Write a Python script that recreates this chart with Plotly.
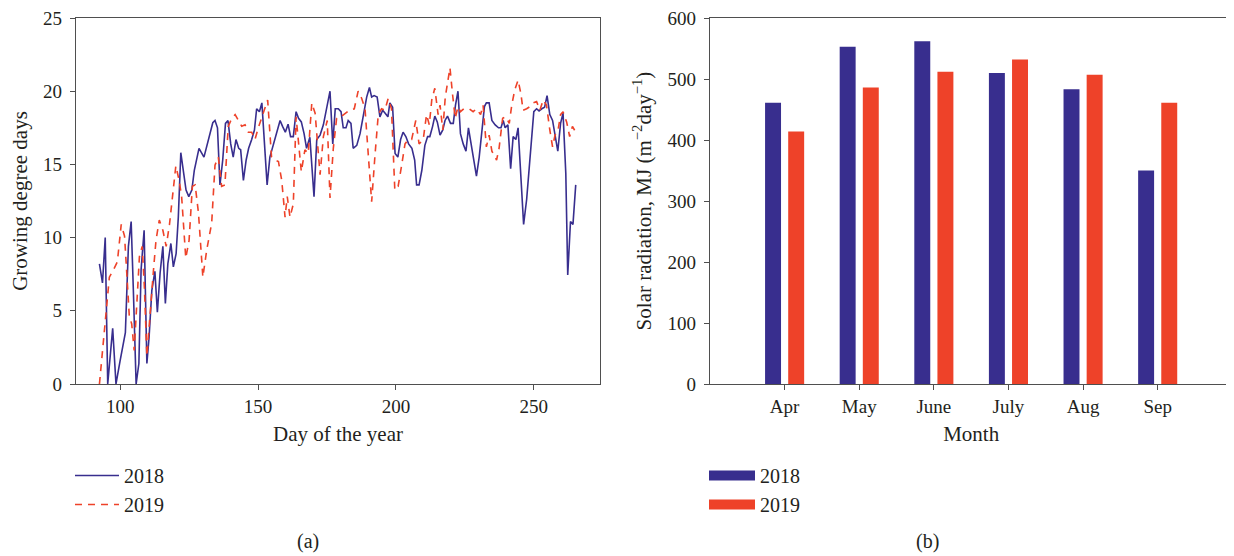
import plotly.graph_objects as go

# ---------------- data: (a) growing degree days ----------------
days_2018 = [92.5, 93.6, 94.6, 95.5, 97.3, 98.5, 100.0, 101.9, 103.0, 104.0, 104.8, 105.8, 106.8, 107.6,
             108.7, 109.7, 110.5, 111.5, 112.6, 113.5, 114.5, 115.5, 116.4, 117.3, 118.4, 119.3, 120.3,
             121.1, 122.0, 122.9, 123.9, 124.9, 126.0, 126.9, 127.8, 128.6, 130.4, 132.0, 133.6, 134.4,
             135.3, 136.2, 137.2, 138.2, 139.1, 140.1, 141.0, 142.0, 143.0, 143.7, 144.7, 145.7, 146.6,
             147.7, 148.7, 149.5, 150.5, 151.4, 152.4, 153.3, 154.3, 155.6, 156.8, 158.0, 158.9, 159.9,
             160.9, 161.8, 162.8, 163.8, 164.7, 165.7, 166.7, 167.6, 168.8, 170.3, 171.3, 172.5, 173.7,
             174.9, 176.1, 177.1, 178.0, 179.1, 180.1, 180.9, 181.9, 182.7, 183.7, 184.5, 185.8, 187.0,
             188.2, 189.4, 190.4, 191.2, 192.1, 193.2, 194.2, 195.2, 196.1, 197.1, 197.8, 198.8, 199.7,
             200.7, 201.7, 202.6, 203.6, 204.6, 205.8, 206.8, 207.5, 208.4, 209.4, 210.5, 211.5, 212.3,
             213.3, 214.1, 215.0, 216.0, 217.0, 217.8, 218.7, 219.8, 220.8, 221.6, 222.5, 223.4, 224.4,
             225.4, 226.3, 227.3, 228.3, 229.2, 230.2, 231.2, 232.1, 232.8, 233.8, 234.8, 236.0, 237.2,
             238.1, 238.9, 239.6, 240.6, 241.6, 242.5, 243.5, 244.3, 245.3, 246.3, 247.4, 248.6, 250.0,
             251.0, 251.9, 252.9, 253.9, 254.8, 255.8, 256.8, 257.7, 258.7, 259.7, 260.6, 261.6, 262.3,
             263.3, 264.2, 265.2]
gdd_2018 = [8.2, 6.9, 10.0, 0.0, 3.8, 0.0, 1.6, 3.5, 9.4, 11.1, 6.4, 0.0, 1.4, 7.8,
            10.5, 1.4, 3.2, 6.4, 7.7, 4.9, 7.6, 9.4, 5.5, 8.2, 9.6, 8.0, 8.9,
            11.4, 15.8, 14.6, 13.25, 12.8, 13.25, 14.6, 15.5, 16.1, 15.5, 16.7, 17.85, 18.0,
            17.5, 13.6, 15.3, 17.8, 18.0, 16.4, 15.5, 16.7, 16.1, 16.0, 13.9, 15.3, 16.1,
            16.7, 17.35, 18.8, 18.6, 19.2, 16.0, 13.6, 15.5, 16.4, 17.35, 18.0, 17.6, 17.2,
            17.75, 16.9, 16.9, 18.6, 18.15, 17.9, 17.1, 16.1, 16.85, 12.8, 16.7, 17.0, 17.7,
            18.8, 20.0, 16.4, 18.8, 18.8, 18.6, 17.5, 17.5, 18.0, 17.8, 16.1, 16.3, 17.1,
            18.5, 19.6, 20.25, 19.6, 19.7, 19.6, 18.25, 18.7, 18.5, 18.25, 19.2, 18.9, 15.75,
            15.5, 16.7, 17.2, 16.9, 16.4, 16.1, 15.3, 13.6, 13.6, 14.6, 16.3, 16.9, 16.9,
            17.6, 18.3, 17.9, 17.0, 17.35, 18.0, 18.3, 17.8, 17.8, 19.05, 20.0, 17.1, 16.4,
            15.9, 17.5, 16.4, 15.3, 14.2, 15.5, 17.1, 18.95, 19.2, 19.2, 18.0, 17.7, 17.5,
            17.5, 18.0, 17.5, 17.7, 14.7, 16.9, 16.7, 17.5, 14.4, 10.9, 12.6, 15.5, 18.6,
            18.8, 18.65, 18.8, 18.9, 19.7, 18.4, 18.0, 16.9, 15.9, 17.8, 18.5, 14.4, 7.45,
            11.1, 10.9, 13.6]

days_2019 = [92.5, 94.6, 96.1, 97.6, 99.0, 100.4, 101.6, 102.4, 103.3, 104.2, 105.1, 106.0, 107.0, 108.0,
             108.8, 109.7, 110.9, 112.1, 113.0, 114.2, 115.5, 116.7, 117.9, 119.1, 120.2, 121.4, 122.3,
             123.8, 125.0, 126.2, 127.2, 128.4, 130.0, 131.4, 133.2, 134.4, 135.6, 136.8, 138.0, 139.2,
             140.5, 141.7, 142.9, 144.1, 145.3, 146.5, 147.7, 148.9, 150.1, 151.3, 152.5, 153.5, 154.9,
             156.2, 157.4, 158.6, 159.8, 160.6, 161.6, 162.8, 163.8, 164.7, 165.7, 167.0, 168.2, 169.5,
             170.7, 172.5, 173.7, 175.1, 176.1, 177.3, 178.5, 180.0, 181.5, 183.1, 184.9, 186.3, 187.6,
             188.8, 190.0, 191.2, 192.4, 193.6, 194.8, 196.0, 197.2, 198.4, 199.6, 200.8, 202.0, 203.3,
             204.5, 205.7, 207.2, 208.4, 209.9, 211.1, 212.1, 213.0, 214.1, 215.3, 216.0, 217.0, 217.9,
             218.8, 219.6, 220.5, 221.5, 222.5, 223.4, 224.6, 226.6, 228.0, 229.2, 230.7, 231.6, 232.8,
             233.8, 234.8, 236.5, 237.4, 238.7, 239.9, 241.1, 242.0, 243.1, 244.3, 245.3, 246.1, 247.4,
             248.6, 249.7, 251.0, 252.2, 253.4, 254.6, 255.8, 256.8, 257.7, 258.8, 259.7, 260.6, 261.9,
             263.0, 264.0, 265.2]
gdd_2019 = [0.0, 4.1, 7.3, 7.8, 8.35, 10.9, 10.1, 7.6, 4.7, 4.1, 2.3, 5.3, 8.7, 9.4,
            6.6, 1.9, 5.05, 7.8, 9.8, 11.2, 10.5, 9.4, 10.9, 13.0, 14.9, 13.9, 12.8,
            8.6, 9.8, 13.5, 13.6, 11.7, 7.3, 9.15, 11.0, 14.95, 15.5, 13.5, 13.6, 17.6,
            18.15, 18.4, 18.0, 17.6, 17.7, 17.2, 17.2, 16.7, 17.5, 18.15, 18.9, 19.4, 15.5,
            15.3, 15.2, 13.9, 11.4, 12.8, 11.4, 12.3, 18.25, 16.2, 14.5, 16.0, 15.75, 19.2,
            18.5, 14.3, 16.9, 18.0, 12.7, 16.1, 18.15, 18.25, 18.45, 18.7, 18.8, 20.0, 19.5,
            18.8, 15.6, 12.45, 15.6, 18.4, 18.8, 18.7, 19.5, 18.8, 13.25, 13.5, 14.85, 16.4,
            16.7, 16.7, 18.0, 16.4, 16.7, 18.4, 17.7, 19.4, 20.2, 18.4, 19.05, 17.35, 19.6,
            20.8, 21.6, 19.85, 18.15, 18.95, 18.6, 18.8, 18.8, 18.6, 18.8, 18.4, 19.05, 16.2,
            17.0, 15.9, 15.3, 16.1, 18.15, 18.25, 17.8, 19.05, 20.1, 20.75, 19.85, 18.7, 18.8,
            18.95, 19.2, 19.3, 18.7, 19.4, 19.05, 17.35, 16.2, 17.0, 17.35, 18.4, 18.6, 17.9,
            16.9, 17.6, 17.2]

# ---------------- data: (b) solar radiation ----------------
months = ["Apr", "May", "June", "July", "Aug", "Sep"]
solar_2018 = [461, 553, 562, 510, 483, 350]
solar_2019 = [414, 486, 512, 532, 507, 461]

gdd_ticks = [100, 150, 200, 250]

BLUE = "#382E8E"
RED = "#EE4229"
TEXT = "#231F20"
AXIS = "#4F4F4F"
FONT = "Liberation Serif"

# the page body has an 8px margin: the figure is sized so it fits the 1234x556 window
OFF = 8
W, H = 1234 - OFF, 556 - OFF


def px_x(p):
    return (p - OFF) / W


def px_y(p):
    return 1 - (p - OFF) / H


fig = go.Figure()

fig.add_trace(go.Scatter(x=days_2018, y=gdd_2018, mode="lines", name="2018",
                         line=dict(color=BLUE, width=1.6), xaxis="x", yaxis="y", legend="legend"))
fig.add_trace(go.Scatter(x=days_2019, y=gdd_2019, mode="lines", name="2019",
                         line=dict(color=RED, width=1.6, dash="7px,6px"), xaxis="x", yaxis="y",
                         legend="legend"))

fig.add_trace(go.Bar(x=months, y=solar_2018, name="2018", marker=dict(color=BLUE, line=dict(width=0)),
                     xaxis="x2", yaxis="y2", showlegend=False, legendgroup="b2018"))
fig.add_trace(go.Bar(x=months, y=solar_2019, name="2019", marker=dict(color=RED, line=dict(width=0)),
                     xaxis="x2", yaxis="y2", showlegend=False, legendgroup="b2019"))
# legend swatches for the bar panel (wide rectangles)
fig.add_trace(go.Scatter(x=[None], y=[None], mode="lines", name="2018", line=dict(color=BLUE, width=10),
                         xaxis="x2", yaxis="y2", legend="legend2", legendgroup="b2018"))
fig.add_trace(go.Scatter(x=[None], y=[None], mode="lines", name="2019", line=dict(color=RED, width=10),
                         xaxis="x2", yaxis="y2", legend="legend2", legendgroup="b2019"))

axis_common = dict(showline=True, mirror=True, linecolor=AXIS, linewidth=1.3, ticks="outside",
                   ticklen=5, tickwidth=1.3, tickcolor=AXIS, showgrid=False, zeroline=False,
                   automargin=False, ticklabeloverflow="allow",
                   tickfont=dict(family=FONT, size=19, color=TEXT))

TITLE_FONT = dict(family=FONT, size=21, color=TEXT)
LEG_FONT = dict(family=FONT, size=20, color=TEXT)

fig.update_layout(
    width=W, height=H,
    margin=dict(l=0, r=0, t=0, b=0),
    paper_bgcolor="white", plot_bgcolor="white",
    font=dict(family=FONT, size=19, color=TEXT),
    barmode="group", bargap=0.38, bargroupgap=0.31,
    xaxis=dict(domain=[px_x(76), px_x(600)], range=[84, 274], tickvals=gdd_ticks, anchor="y",
               title=dict(text="Day of the year", standoff=10, font=TITLE_FONT), **axis_common),
    yaxis=dict(domain=[px_y(384), px_y(18)], range=[0, 25], dtick=5, anchor="x", ticklabelstandoff=4,
               title=dict(text="Growing degree days", standoff=14, font=TITLE_FONT), **axis_common),
    xaxis2=dict(domain=[px_x(710), px_x(1232.3)], range=[-1, 6], anchor="y2", type="category",
                title=dict(text="Month", standoff=10, font=TITLE_FONT), **axis_common),
    yaxis2=dict(domain=[px_y(384), px_y(18)], range=[0, 600], dtick=100, anchor="x2", ticklabelstandoff=4,
                title=dict(text="Solar radiation, MJ (m<sup>\u22122</sup>day<sup>\u22121</sup>)",
                           standoff=10, font=TITLE_FONT), **axis_common),
    legend=dict(x=px_x(70), xanchor="left", y=px_y(456), yanchor="top", bgcolor="rgba(0,0,0,0)",
                font=LEG_FONT, tracegroupgap=0, itemwidth=44),
    legend2=dict(x=px_x(704), xanchor="left", y=px_y(456), yanchor="top", bgcolor="rgba(0,0,0,0)",
                 font=LEG_FONT, tracegroupgap=0, itemwidth=46),
    annotations=[
        dict(text="(a)", x=px_x(308), y=px_y(541), xref="paper", yref="paper", showarrow=False,
             xanchor="center", yanchor="middle", font=dict(family=FONT, size=20, color=TEXT)),
        dict(text="(b)", x=px_x(927), y=px_y(541), xref="paper", yref="paper", showarrow=False,
             xanchor="center", yanchor="middle", font=dict(family=FONT, size=20, color=TEXT)),
    ],
)

fig.write_html("out.html")
